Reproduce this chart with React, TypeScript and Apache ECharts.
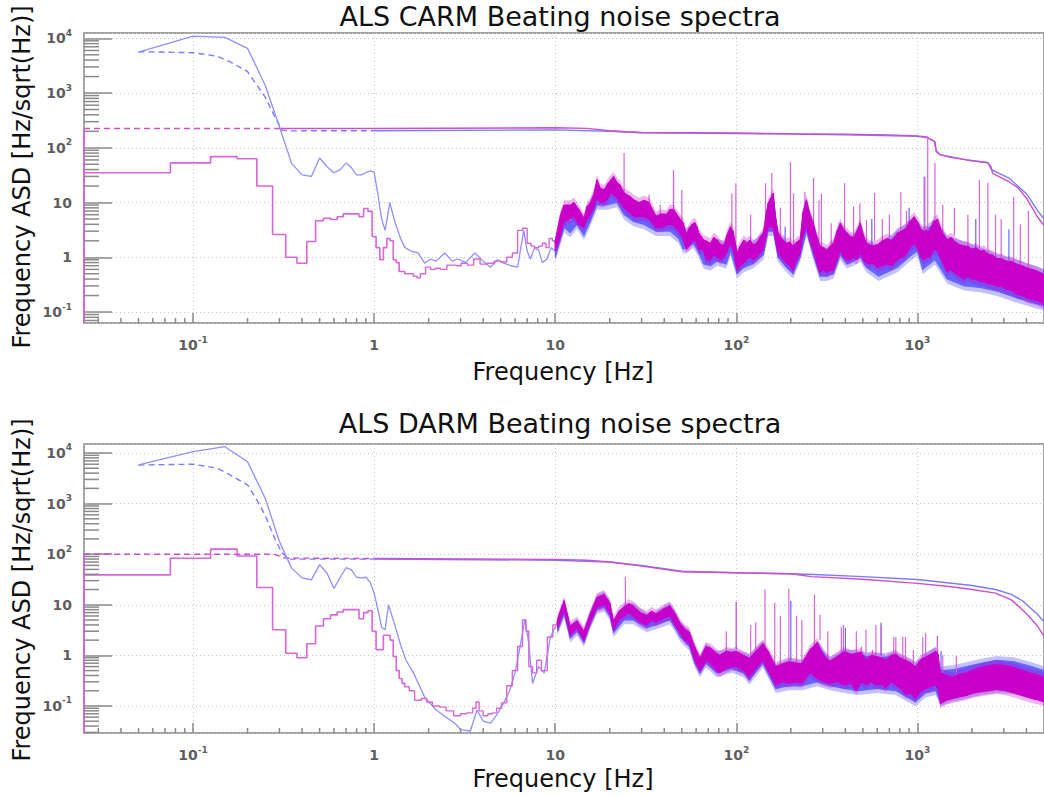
import React, { useEffect, useRef } from 'react';
import * as echarts from 'echarts';

// ---------- axis ranges ----------
const X_MIN = 0.025;
const X_MAX = 5000;
const CARM_Y_MIN = 0.063;
const CARM_Y_MAX = 12500;
const DARM_Y_MIN = 0.0292;
const DARM_Y_MAX = 15060;
const BIN = 0.05; // low-frequency histogram bin width [Hz]

// ---------- CARM (top) ----------
const carmBlueLine: number[][] = [
  [0.05, 5600], [0.1, 11000], [0.15, 10400], [0.2, 6560], [0.25, 1400], [0.3, 243], [0.35, 52], [0.4, 32],
  [0.45, 30], [0.5, 65], [0.55, 45], [0.6, 35], [0.65, 40], [0.7, 53], [0.75, 43], [0.8, 32], [0.85, 32],
  [0.9, 35], [0.95, 38], [1.0, 36], [1.05, 14], [1.1, 5], [1.15, 3.1], [1.22, 10], [1.3, 4.5], [1.4, 2.2],
  [1.48, 1.5], [1.6, 1.3], [1.75, 1.2], [1.9, 0.78], [2.05, 0.93], [2.2, 0.85], [2.45, 1.2], [2.7, 0.85],
  [2.9, 0.93], [3.2, 0.8], [3.6, 1.2], [4.0, 0.85], [4.4, 0.66], [4.8, 0.9], [5.2, 0.78], [5.7, 0.7],
  [6.2, 0.66], [6.7, 3.1], [7.0, 1.3], [7.3, 0.93], [7.7, 1.5], [8.1, 1.35], [8.5, 0.8], [9.0, 0.93],
  [9.5, 1.5], [10, 1.3],
];
const carmMagBins: number[] = [
  35, 53, 69, 63, 20, 2.6, 1.0, 0.78, 1.94, 4.66, 5.15, 4.9, 5.5, 6.2, 6.2, 6.2, 5.5, 7.8, 6.9, 2.4,
  1.5, 0.9, 1.5, 2.2, 2.0, 0.9, 0.8, 0.55, 0.55, 0.5,
];
const carmMagLine: number[][] = [
  [1.525, 0.5], [1.6, 0.5], [1.7, 0.45], [1.75, 0.42], [1.85, 0.5], [2.0, 0.66], [2.1, 0.6], [2.25, 0.63],
  [2.4, 0.6], [2.65, 0.72], [2.9, 0.7], [3.15, 0.78], [3.4, 0.72], [3.7, 0.93], [4.0, 0.75], [4.4, 0.78],
  [4.8, 0.85], [5.2, 0.82], [5.6, 1.0], [6.0, 1.2], [6.4, 3.1], [6.8, 3.4], [7.2, 1.8], [7.5, 1.6],
  [7.9, 1.5], [8.3, 1.6], [8.7, 1.8], [9.1, 1.5], [9.4, 2.2], [9.9, 2.0], [10, 1.8],
];
// [freq, low, high] of the solid core of the dense noise
const carmBlueBand: number[][] = [
  [10, 1.0, 1.8], [11.2, 3.5, 5.5], [12.1, 2.8, 4.5], [13.2, 4, 6.3], [14.4, 2.5, 3.6], [15.6, 4.5, 7.5],
  [17, 9, 15], [19.3, 9, 15], [21.9, 10, 19], [24, 6, 11], [27, 4.5, 8], [30.7, 4, 7], [36, 3, 5],
  [43, 3, 5.5], [48, 2.2, 4.5], [51, 1.4, 2.7], [58, 1.8, 3.3], [62, 1.2, 2.4], [66, 0.75, 1.4],
  [72, 0.7, 1.5], [78.5, 0.85, 1.8], [88, 0.75, 1.5], [93, 1.3, 3], [101, 0.5, 1.0], [110, 0.65, 1.7],
  [123, 0.75, 1.6], [141, 1.1, 2.4], [150, 3, 8.5], [160, 3, 12], [170, 1.0, 2.4], [189, 0.65, 1.6],
  [206, 0.5, 1.4], [225, 1.0, 1.8], [244, 3, 9.5], [266, 1.1, 3.6], [290, 0.45, 1.4], [316, 0.45, 1.2],
  [344, 0.5, 1.6], [375, 1.1, 3.6], [408, 0.75, 2.4], [444, 0.85, 2.0], [484, 1.0, 3.6], [523, 0.65, 1.6],
  [610, 0.45, 1.4], [775, 0.65, 2.6], [900, 1.0, 3.8], [1000, 1.3, 3.8], [1070, 0.6, 2.8],
  [1250, 0.9, 4.2], [1460, 0.4, 2.0], [1810, 0.3, 1.6], [2220, 0.28, 1.25], [2750, 0.24, 0.95],
  [3550, 0.18, 0.75], [4580, 0.14, 0.55], [5000, 0.13, 0.5],
];
const carmMagBand: number[][] = [
  [10, 1.3, 2.0], [10.7, 2.5, 6], [11.2, 4.5, 9], [12.1, 5, 9], [12.7, 5.5, 10], [13.5, 4, 7.5],
  [14.4, 3.5, 5.2], [15.0, 5, 8.5], [15.6, 6, 10], [16.3, 8, 14], [17, 12, 26], [17.8, 10, 18], [18.6, 10, 17],
  [19.5, 12, 22], [20.3, 15, 26], [21, 14, 30], [22, 12, 23], [22.8, 10, 21], [24, 8, 15], [25.8, 6.5, 13],
  [27.5, 5.5, 11], [29, 5.5, 10], [31, 5.5, 11], [33, 5, 10], [36, 3.5, 5.6], [38.5, 3.5, 6.2], [41, 3.8, 6],
  [43, 4, 7.5], [45, 3.8, 7.5], [48, 3, 5.5], [51, 2.2, 4.2], [53, 1.4, 2.6], [55, 1.6, 3.4], [57, 2.0, 4.0],
  [59, 2.0, 4.3], [60.6, 1.8, 3.6], [62, 1.4, 2.8], [66, 1.36, 2.07], [68, 0.9, 2.0], [71.8, 0.89, 1.8],
  [75, 1.1, 2.3], [78.5, 1.0, 2.07], [82, 0.9, 1.7], [85.4, 1.0, 1.67], [89, 1.3, 2.6], [92.7, 1.8, 3.6],
  [96, 1.4, 3.0], [101, 0.58, 1.2], [105, 0.7, 1.6], [110, 0.79, 2.07], [114, 0.9, 1.8], [119, 1.0, 2.07],
  [124, 0.9, 1.7], [130, 1.0, 1.8], [135, 1.2, 2.3], [141, 1.36, 2.8], [146, 2.5, 6], [150, 3.6, 9.8],
  [155, 3.6, 12], [160, 3.6, 14.9], [165, 2.0, 5], [170, 1.2, 2.8], [178, 1.0, 2.2], [189, 0.79, 1.8],
  [197, 0.7, 1.9], [206, 0.58, 1.6], [215, 0.9, 1.9], [225, 1.2, 2.07], [233, 2.5, 6.5], [244, 3.6, 11.2],
  [255, 2.0, 6], [266, 1.36, 4.2], [278, 0.8, 2.4], [290, 0.52, 1.6], [303, 0.6, 1.5], [316, 0.52, 1.36],
  [330, 0.58, 1.6], [344, 0.58, 1.8], [360, 0.9, 3.0], [375, 1.36, 4.2], [392, 1.0, 3.2], [408, 0.89, 2.8],
  [425, 0.9, 2.4], [444, 1.0, 2.3], [463, 0.9, 3.0], [484, 1.2, 4.2], [503, 0.9, 2.5], [523, 0.79, 1.8],
  [545, 0.75, 1.7], [569, 0.79, 1.6], [600, 0.65, 1.7], [640, 0.7, 2.0], [680, 0.75, 2.2], [725, 0.7, 2.0],
  [775, 0.9, 2.8], [820, 1.0, 3.0], [860, 1.1, 3.3], [910, 1.5, 4.5], [960, 1.8, 5.5], [1010, 1.4, 4.2],
  [1050, 1.0, 3.2], [1090, 0.9, 3.0], [1130, 1.0, 3.0], [1170, 1.0, 3.0], [1230, 1.4, 4.5], [1290, 1.3, 5.0],
  [1360, 0.9, 3.0], [1460, 0.55, 2.1], [1540, 0.6, 2.3], [1620, 0.5, 1.9], [1710, 0.45, 1.7],
  [1810, 0.4, 1.6], [1900, 0.45, 1.6], [2000, 0.4, 1.4], [2100, 0.4, 1.5], [2220, 0.36, 1.3],
  [2330, 0.36, 1.35], [2450, 0.33, 1.15], [2600, 0.32, 1.1], [2750, 0.3, 0.95], [2920, 0.29, 0.95],
  [3100, 0.26, 0.85], [3300, 0.25, 0.85], [3550, 0.21, 0.74], [3800, 0.2, 0.7], [4000, 0.18, 0.64],
  [4300, 0.17, 0.6], [4580, 0.16, 0.56], [5000, 0.14, 0.48],
];
// [freq, base, peak]
const carmMagSpikes: number[][] = [
  [24, 12, 80], [33, 8, 14], [38, 5, 9], [45, 6, 39], [50, 4, 17], [94.5, 2, 14.6], [99.4, 1.5, 22.6],
  [120, 2, 6], [145, 2, 22.6], [157, 8, 34.5], [175, 2.5, 8], [199, 1.5, 55], [207, 1.5, 14.7],
  [239, 6, 15.8], [267, 3, 28], [286, 2, 11], [295, 1.2, 14.6], [334, 1.2, 4.2], [396, 2.5, 22.6],
  [444, 2, 8.5], [481, 3, 9.6], [523, 1.5, 4.8], [580, 2, 15], [640, 1.5, 5], [700, 2, 6], [810, 3, 15.6],
  [870, 2, 7], [1100, 3, 29], [1140, 3, 160], [1250, 5, 53], [1380, 2, 9], [1600, 2.5, 8], [1900, 1.5, 6],
  [2200, 1.2, 26], [2450, 1.2, 23], [2700, 1, 6], [2900, 1, 5], [3400, 0.8, 12.6], [3700, 0.7, 4],
  [4100, 0.6, 7],
];
const carmBlueSpikes: number[][] = [
  [45, 6, 36], [186, 1.5, 3.6], [560, 1.5, 5], [900, 4, 8], [1090, 3, 30], [2100, 1.3, 5], [3200, 0.9, 3.2],
];
const carmMagRmsDash: number[][] = [[0.025, 225], [0.3, 225]];
const carmMagRms: number[][] = [
  [0.3, 225], [1, 225], [10, 232], [15, 226], [20, 205], [25, 196], [30, 190], [100, 186], [200, 180],
  [400, 177], [700, 172], [1000, 165], [1130, 158], [1150, 150], [1240, 130], [1270, 88], [1330, 75],
  [1500, 68], [1870, 60], [2450, 53], [2550, 45], [2600, 34], [3200, 24], [3600, 18.5], [4000, 12],
  [4600, 5.5], [5000, 3.8],
];
const carmBlueRmsDash: number[][] = [
  [0.05, 5690], [0.1, 5460], [0.135, 4740], [0.16, 3730], [0.2, 2460], [0.225, 1400], [0.25, 850],
  [0.285, 350], [0.31, 210], [0.35, 204], [1.0, 205],
];
const carmBlueRms: number[][] = [
  [1.0, 205], [10, 212], [20, 200], [30, 188], [100, 182], [200, 178], [400, 172], [1000, 162],
  [1140, 152], [1250, 130], [1270, 86], [1330, 75], [1870, 60], [2450, 54], [2560, 40], [3200, 28],
  [4000, 14.5], [4600, 7.2], [5000, 5],
];

// ---------- DARM (bottom) ----------
const darmBlueLine: number[][] = [
  [0.05, 5800], [0.1, 10600], [0.15, 13300], [0.2, 6700], [0.25, 1290], [0.3, 178], [0.35, 53], [0.4, 34],
  [0.45, 31], [0.5, 62], [0.55, 42], [0.6, 21], [0.65, 35], [0.7, 54], [0.75, 49], [0.8, 35], [0.85, 34],
  [0.9, 35], [0.95, 28], [1.0, 17], [1.05, 8], [1.1, 3.6], [1.15, 3.2], [1.2, 10], [1.3, 4], [1.4, 1.6],
  [1.5, 0.8], [1.65, 0.45], [1.9, 0.15], [2.2, 0.083], [2.5, 0.06], [2.8, 0.045], [3.0, 0.034],
  [3.4, 0.032], [3.7, 0.083], [4.0, 0.05], [4.4, 0.046], [4.8, 0.07], [5.2, 0.115], [5.6, 0.2],
  [6.0, 0.45], [6.4, 1.5], [6.8, 5], [7.1, 2], [7.5, 0.28], [8.1, 0.6], [8.7, 0.45], [9.4, 2.3],
  [10.3, 4.5],
];
const darmMagBins: number[] = [
  39, 83, 126, 92, 22, 3.2, 1.1, 0.9, 1.7, 3.8, 5.3, 6.3, 7.2, 8, 8, 8, 5.3, 7.0, 7.6, 3.0,
  1.3, 1.3, 2.5, 2.5, 2.0, 0.95, 0.5, 0.35, 0.28, 0.24,
];
const darmMagLine: number[][] = [
  [1.525, 0.24], [1.6, 0.2], [1.75, 0.13], [1.9, 0.14], [2.0, 0.12], [2.2, 0.1], [2.4, 0.095], [2.6, 0.08],
  [2.9, 0.064], [3.1, 0.07], [3.4, 0.073], [3.6, 0.09], [3.7, 0.12], [3.9, 0.08], [4.1, 0.064],
  [4.4, 0.07], [4.6, 0.073], [4.9, 0.09], [5.2, 0.115], [5.6, 0.25], [6.0, 0.5], [6.4, 1.5], [6.8, 5],
  [7.0, 3], [7.3, 0.6], [7.7, 0.45], [8.1, 0.8], [8.7, 0.5], [9.4, 2.3], [10, 4], [10.3, 4.5],
];
const darmBlueBand: number[][] = [
  [10.3, 3, 4.8], [11.2, 6.5, 11], [12.1, 2.2, 3.4], [13.2, 3, 4.3], [14.4, 1.8, 2.7], [15.6, 4, 6.2],
  [17, 8, 13], [18.6, 9, 15], [20, 6, 10], [21, 2.8, 4.2], [24, 5, 8.5], [27, 5, 9], [32, 3.5, 5.6],
  [36, 4, 6.2], [43, 5, 9], [46, 3.5, 6], [49, 2.3, 3.8], [55, 1.5, 2.6], [59, 0.7, 1.3],
  [63, 0.45, 0.8], [68, 0.7, 1.4], [78, 0.45, 1.0], [94, 0.55, 1.1], [110, 0.45, 0.95], [118, 0.32, 0.85],
  [140, 0.7, 1.6], [165, 0.22, 0.55], [195, 0.25, 0.7], [230, 0.25, 0.65], [280, 0.3, 1.6],
  [330, 0.25, 0.75], [395, 0.22, 1.1], [470, 0.2, 1.0], [600, 0.22, 0.9], [760, 0.2, 0.95],
  [975, 0.12, 0.6], [1110, 0.18, 0.9], [1260, 0.2, 1.2], [1340, 0.12, 0.5], [1570, 0.15, 0.52],
  [1860, 0.17, 0.6], [2260, 0.2, 0.7], [2730, 0.22, 0.8], [3400, 0.21, 0.75], [4280, 0.17, 0.6],
  [5000, 0.14, 0.5],
];
const darmMagBand: number[][] = [
  [10.3, 3.5, 5.2], [11.2, 8, 12], [12.1, 2.5, 3.8], [13.2, 3.5, 4.8], [14.4, 2.0, 3.0], [15.6, 4.5, 6.6],
  [17, 9, 14], [18.6, 10, 16], [20, 7, 11], [21, 3.2, 4.8], [22.5, 5, 7.5], [24, 6, 9], [25.5, 7, 10.5],
  [27, 6, 9.5], [29.5, 4.5, 7], [32, 4, 6.2], [34, 5, 7.5], [36, 4.5, 6.6], [40, 5.5, 8.5], [43, 6, 9.5],
  [46, 4, 6.6], [49, 2.8, 4.3], [52, 2, 3.3], [55, 1.8, 2.9], [59, 0.8, 1.45], [63, 0.5, 0.88], [68, 0.8, 1.5],
  [72, 0.7, 1.4], [78, 0.5, 1.1], [81, 0.45, 1.0], [88, 0.55, 1.2], [94, 0.6, 1.15], [100, 0.6, 1.2],
  [110, 0.5, 1.0], [118, 0.37, 0.88], [128, 0.55, 1.2], [140, 0.8, 1.7], [150, 0.5, 1.2], [165, 0.26, 0.6],
  [180, 0.3, 0.68], [195, 0.28, 0.75], [210, 0.3, 0.72], [230, 0.28, 0.68], [255, 0.45, 1.3], [280, 0.35, 1.8],
  [305, 0.3, 0.95], [330, 0.28, 0.78], [360, 0.3, 0.95], [395, 0.26, 1.2], [430, 0.28, 1.05], [460, 0.2, 1.1],
  [490, 0.3, 1.15], [522, 0.26, 0.8], [555, 0.3, 1.0], [590, 0.26, 0.96], [630, 0.27, 0.9], [670, 0.23, 0.8],
  [715, 0.3, 1.0], [760, 0.26, 1.05], [810, 0.22, 0.88], [860, 0.17, 0.8], [915, 0.18, 0.72],
  [975, 0.14, 0.6], [1040, 0.19, 0.82], [1110, 0.22, 0.93], [1180, 0.24, 1.05], [1260, 0.26, 1.2],
  [1300, 0.22, 1.05], [1340, 0.11, 0.45], [1450, 0.13, 0.4], [1570, 0.14, 0.37], [1700, 0.15, 0.42],
  [1860, 0.16, 0.45], [2050, 0.18, 0.52], [2260, 0.19, 0.58], [2500, 0.2, 0.63], [2730, 0.21, 0.66],
  [3050, 0.2, 0.63], [3400, 0.18, 0.58], [3800, 0.16, 0.5], [4280, 0.14, 0.44], [4700, 0.13, 0.4],
  [5000, 0.12, 0.36],
];
const darmMagSpikes: number[][] = [
  [24.4, 9, 36], [88, 1, 3], [100, 1.3, 11.4], [120, 1, 4], [128, 1.2, 4.5], [144, 1.5, 20], [163, 0.6, 11],
  [175, 0.6, 6], [195, 0.8, 21], [215, 0.75, 6], [230, 0.7, 5], [270, 1.4, 16], [290, 2, 6.3],
  [320, 0.8, 3], [380, 1, 3.6], [390, 1.2, 4], [460, 1.1, 3], [490, 1.1, 1.5], [520, 1, 3.2],
  [565, 0.9, 1.28], [590, 1, 4], [630, 1.1, 4], [740, 1, 2.3], [760, 0.9, 2.3], [830, 0.8, 2.3],
  [860, 0.8, 2.3], [950, 0.6, 1.28], [1070, 0.7, 2.3], [1110, 0.9, 2.8], [1290, 1.2, 2.2],
  [1380, 0.45, 1.0], [1640, 0.4, 0.96],
];
const darmBlueSpikes: number[][] = [
  [100, 1.3, 11.4], [200, 0.8, 12], [400, 1.2, 3.5], [630, 1, 4.4], [1290, 1, 2.4], [1350, 0.5, 1.2],
];
const darmMagRmsDash: number[][] = [[0.025, 100], [0.28, 100], [0.32, 84], [1.0, 82]];
const darmMagRms: number[][] = [
  [1.0, 82], [10, 79], [15, 76], [20, 70], [30, 58], [50, 45], [100, 43], [200, 41], [260, 36], [500, 32],
  [1000, 26.5], [1500, 23], [2000, 20], [2700, 17], [3300, 12.5], [3800, 8], [4150, 5.8], [4600, 3.8],
  [5000, 2.4],
];
const darmBlueRmsDash: number[][] = [
  [0.05, 5800], [0.1, 6000], [0.135, 5050], [0.16, 3700], [0.2, 2340], [0.225, 1180], [0.25, 590],
  [0.285, 190], [0.31, 106], [0.34, 80], [1.0, 80],
];
const darmBlueRms: number[][] = [
  [1.0, 80], [10, 76], [20, 70], [30, 60], [50, 46], [100, 43], [250, 40], [500, 36], [1000, 31.5],
  [1500, 27], [2000, 24], [2700, 20], [3300, 16], [3800, 12], [4150, 9], [4600, 6.5], [5000, 4.6],
];

// ---------- styling ----------
const FONT = 'DejaVu Sans';
const BLUE_LINE = '#8f8fff';
const BLUE_FILL = '#6565ff';
const MAG_LINE = '#d866d8';
const MAG_FILL = '#c800c8';
const MAG_RMS = '#cc4fcc';
const BLUE_RMS = '#7b7bff';
const TICK = '#8a8a8a';
const HALO = 1.22; // multiplicative fringe around the solid core

function stepPoints(values: number[]): number[][] {
  const pts: number[][] = [];
  values.forEach((v, i) => {
    const c = (i + 1) * BIN;
    pts.push([c - BIN / 2, v], [c + BIN / 2, v]);
  });
  return pts;
}

function minorValues(min: number, max: number): number[] {
  const out: number[] = [];
  for (let e = -3; e <= 5; e++) {
    for (let m = 2; m <= 9; m++) {
      const v = m * Math.pow(10, e);
      if (v > min && v < max) out.push(v);
    }
  }
  return out;
}

const labelFormatter = (val: number) => {
  const lg = Math.log10(val);
  const e = Math.round(lg);
  if (Math.abs(lg - e) > 1e-6) return '';
  if (e === 0) return '{b|1}';
  if (e === 1) return '{b|10}';
  return `{b|10}{s|${e}}`;
};

const rich = {
  b: { fontFamily: FONT, fontSize: 14, fontWeight: 'bold', color: '#5e5e5e', lineHeight: 20 },
  s: { fontFamily: FONT, fontSize: 9, fontWeight: 'bold', color: '#5e5e5e', verticalAlign: 'top', lineHeight: 20 },
};

function lineS(gi: number, data: number[][], color: string, width: number, z: number, dashed = false, step: any = false) {
  return {
    type: 'line', xAxisIndex: gi, yAxisIndex: gi, data, showSymbol: false, symbol: 'none', silent: true,
    step, z, lineStyle: { color, width, type: dashed ? [6, 4] : 'solid' },
  };
}

function bandS(gi: number, data: number[][], color: string, z: number, haloOpacity: number) {
  return {
    type: 'custom', xAxisIndex: gi, yAxisIndex: gi, silent: true, z, clip: true, data,
    encode: { x: 0, y: [1, 2] },
    renderItem: (params: any, api: any) => {
      const i = params.dataIndex;
      if (i >= data.length - 1) return null;
      const a = data[i];
      const b = data[i + 1];
      const core = [api.coord([a[0], a[2]]), api.coord([b[0], b[2]]), api.coord([b[0], b[1]]), api.coord([a[0], a[1]])];
      const halo = [
        api.coord([a[0], a[2] * HALO]), api.coord([b[0], b[2] * HALO]),
        api.coord([b[0], b[1] / HALO]), api.coord([a[0], a[1] / HALO]),
      ];
      return {
        type: 'group',
        children: [
          { type: 'polygon', shape: { points: halo }, style: { fill: color, opacity: haloOpacity } },
          { type: 'polygon', shape: { points: core }, style: { fill: color, stroke: color, lineWidth: 1 } },
        ],
      };
    },
  };
}

function spikeS(gi: number, data: number[][], color: string, z: number) {
  return {
    type: 'custom', xAxisIndex: gi, yAxisIndex: gi, silent: true, z, clip: true, data,
    encode: { x: 0, y: [1, 2] },
    renderItem: (params: any, api: any) => {
      const p1 = api.coord([api.value(0), api.value(1)]);
      const p2 = api.coord([api.value(0), api.value(2)]);
      return { type: 'line', shape: { x1: p1[0], y1: p1[1], x2: p2[0], y2: p2[1] }, style: { stroke: color, lineWidth: 1.2 } };
    },
  };
}

function yMinorS(gi: number, yMin: number, yMax: number) {
  return {
    type: 'custom', xAxisIndex: gi, yAxisIndex: gi, silent: true, z: 9, clip: false,
    data: minorValues(yMin, yMax).map((v) => [X_MIN, v]),
    renderItem: (params: any, api: any) => {
      const p = api.coord([api.value(0), api.value(1)]);
      return { type: 'line', shape: { x1: p[0], y1: p[1], x2: p[0] + 15, y2: p[1] }, style: { stroke: TICK, lineWidth: 1.5 } };
    },
  };
}

function xMinorS(gi: number, yMin: number) {
  return {
    type: 'custom', xAxisIndex: gi, yAxisIndex: gi, silent: true, z: 9, clip: false,
    data: minorValues(X_MIN, X_MAX).map((v) => [v, yMin]),
    renderItem: (params: any, api: any) => {
      const p = api.coord([api.value(0), api.value(1)]);
      return { type: 'line', shape: { x1: p[0], y1: p[1], x2: p[0], y2: p[1] - 5 }, style: { stroke: TICK, lineWidth: 1.5 } };
    },
  };
}

interface Panel {
  yMin: number; yMax: number;
  blueLine: number[][]; magBins: number[]; magLine: number[][];
  blueBand: number[][]; magBand: number[][];
  blueSpikes: number[][]; magSpikes: number[][];
  magRmsDash: number[][]; magRms: number[][]; blueRmsDash: number[][]; blueRms: number[][];
}

const panels: Panel[] = [
  {
    yMin: CARM_Y_MIN, yMax: CARM_Y_MAX, blueLine: carmBlueLine, magBins: carmMagBins, magLine: carmMagLine,
    blueBand: carmBlueBand, magBand: carmMagBand, blueSpikes: carmBlueSpikes, magSpikes: carmMagSpikes,
    magRmsDash: carmMagRmsDash, magRms: carmMagRms, blueRmsDash: carmBlueRmsDash, blueRms: carmBlueRms,
  },
  {
    yMin: DARM_Y_MIN, yMax: DARM_Y_MAX, blueLine: darmBlueLine, magBins: darmMagBins, magLine: darmMagLine,
    blueBand: darmBlueBand, magBand: darmMagBand, blueSpikes: darmBlueSpikes, magSpikes: darmMagSpikes,
    magRmsDash: darmMagRmsDash, magRms: darmMagRms, blueRmsDash: darmBlueRmsDash, blueRms: darmBlueRms,
  },
];

const gridBoxes = [
  { left: 84, top: 33, width: 963, height: 290 },
  { left: 84, top: 444, width: 963, height: 289 },
];

function buildOption() {
  const grid = gridBoxes.map((g) => ({
    ...g, show: true, borderColor: '#a3a3a3', borderWidth: 2, backgroundColor: 'transparent', containLabel: false,
  }));
  const splitLine = { show: true, lineStyle: { color: '#c4c4c4', type: [1, 3], width: 1 } };
  const xAxis = panels.map((p, i) => ({
    type: 'log', logBase: 10, gridIndex: i, min: X_MIN, max: X_MAX,
    axisLine: { show: false },
    axisTick: { show: true, inside: true, length: 10, lineStyle: { color: TICK, width: 1.5 } },
    axisLabel: { formatter: labelFormatter, rich, margin: 12, showMinLabel: false, showMaxLabel: false },
    splitLine,
  }));
  const yAxis = panels.map((p, i) => ({
    type: 'log', logBase: 10, gridIndex: i, min: p.yMin, max: p.yMax,
    axisLine: { show: false },
    axisTick: { show: true, inside: true, length: 28, lineStyle: { color: TICK, width: 1.5 } },
    axisLabel: { formatter: labelFormatter, rich, margin: 12, showMinLabel: false, showMaxLabel: false },
    splitLine,
  }));

  const series: any[] = [];
  panels.forEach((p, gi) => {
    series.push(yMinorS(gi, p.yMin, p.yMax));
    series.push(xMinorS(gi, p.yMin));
    // RMS traces
    series.push(lineS(gi, p.blueRmsDash, BLUE_RMS, 1.4, 3, true));
    series.push(lineS(gi, p.blueRms, BLUE_RMS, 1.4, 3));
    series.push(lineS(gi, p.magRmsDash, MAG_RMS, 1.4, 4, true));
    series.push(lineS(gi, p.magRms, MAG_RMS, 1.4, 4));
    // left edge of the magenta trace
    series.push(lineS(gi, [[X_MIN, p.yMin], [X_MIN, p.magRmsDash[0][1]]], MAG_LINE, 2, 4));
    // blue spectrum
    series.push(lineS(gi, p.blueLine, BLUE_LINE, 1.3, 5));
    series.push(spikeS(gi, p.blueSpikes, BLUE_FILL, 5));
    series.push(bandS(gi, p.blueBand, BLUE_FILL, 6, 0.4));
    // magenta spectrum
    series.push(lineS(gi, stepPoints(p.magBins), MAG_LINE, 1.6, 7));
    series.push(lineS(gi, p.magLine, MAG_LINE, 1.4, 7, false, 'middle'));
    series.push(spikeS(gi, p.magSpikes, MAG_LINE, 7));
    series.push(bandS(gi, p.magBand, MAG_FILL, 8, 0.3));
  });

  const textStyle = (text: string, size: number) => ({ text, fontSize: size, fontFamily: FONT, fill: '#111', align: 'center', verticalAlign: 'middle' });
  const graphic = [
    { type: 'text', x: 560, y: 16, style: textStyle('ALS CARM Beating noise spectra', 27) },
    { type: 'text', x: 563, y: 372, style: textStyle('Frequency [Hz]', 24) },
    { type: 'text', x: 22, y: 177, rotation: Math.PI / 2, style: textStyle('Frequency ASD [Hz/sqrt(Hz)]', 24) },
    { type: 'text', x: 560, y: 423, style: textStyle('ALS DARM Beating noise spectra', 27) },
    { type: 'text', x: 563, y: 779, style: textStyle('Frequency [Hz]', 24) },
    { type: 'text', x: 22, y: 590, rotation: Math.PI / 2, style: textStyle('Frequency ASD [Hz/sqrt(Hz)]', 24) },
  ];

  return { animation: false, backgroundColor: '#ffffff', grid, xAxis, yAxis, series, graphic };
}

export default function App() {
  const ref = useRef<HTMLDivElement>(null);
  useEffect(() => {
    if (!ref.current) return;
    const chart = echarts.init(ref.current, undefined, { renderer: 'svg' });
    chart.setOption(buildOption() as any);
    return () => chart.dispose();
  }, []);
  return <div ref={ref} style={{ position: 'fixed', left: 0, top: 0, width: 1044, height: 796, background: '#fff' }} />;
}
